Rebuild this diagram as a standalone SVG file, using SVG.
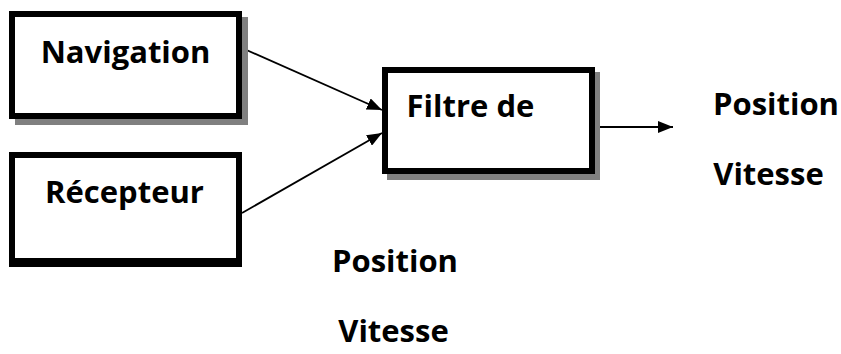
<svg xmlns="http://www.w3.org/2000/svg" width="841" height="354" viewBox="0 0 841 354">
<style>
.box{fill:#fff;stroke:#000;stroke-width:6}
.shadow{fill:#808080}
.lbl{font-family:"Open Sans","Liberation Sans",sans-serif;font-weight:bold;font-size:31px;fill:#000;text-anchor:middle}
.conn{stroke:#000;stroke-width:1.8;fill:none;marker-end:url(#ah)}
</style>
<defs>
<marker id="ah" markerWidth="15" markerHeight="12" refX="15" refY="6" orient="auto" markerUnits="userSpaceOnUse">
<path d="M0,0 L15,6 L0,12 Z" fill="#000"/>
</marker>
</defs>
<rect width="841" height="354" fill="#fff"/>
<g id="connectors">
<line class="conn" x1="242" y1="48" x2="382" y2="110"/>
<line class="conn" x1="242" y1="213" x2="382" y2="133"/>
<line class="conn" x1="595" y1="127" x2="673" y2="127"/>
</g>
<g id="navigation">
<rect class="shadow" x="15" y="17" width="233" height="108"/>
<rect class="box" x="12" y="14" width="227" height="102"/>
<text class="lbl" x="125.5" y="63">Navigation</text>
</g>
<g id="recepteur">
<rect class="box" x="12" y="155" width="227" height="106"/>
<rect x="9" y="258" width="233" height="9" fill="#000"/>
<text class="lbl" x="124.5" y="203">Récepteur</text>
</g>
<g id="filtre">
<rect class="shadow" x="387" y="72" width="213" height="108"/>
<rect class="box" x="385" y="70" width="207" height="101"/>
<text class="lbl" x="470.5" y="117">Filtre de</text>
</g>
<g id="sortie">
<text class="lbl" x="776" y="115">Position</text>
<text class="lbl" x="768.5" y="185">Vitesse</text>
</g>
<g id="labels-bas">
<text class="lbl" x="395" y="272">Position</text>
<text class="lbl" x="393.5" y="342">Vitesse</text>
</g>
</svg>
